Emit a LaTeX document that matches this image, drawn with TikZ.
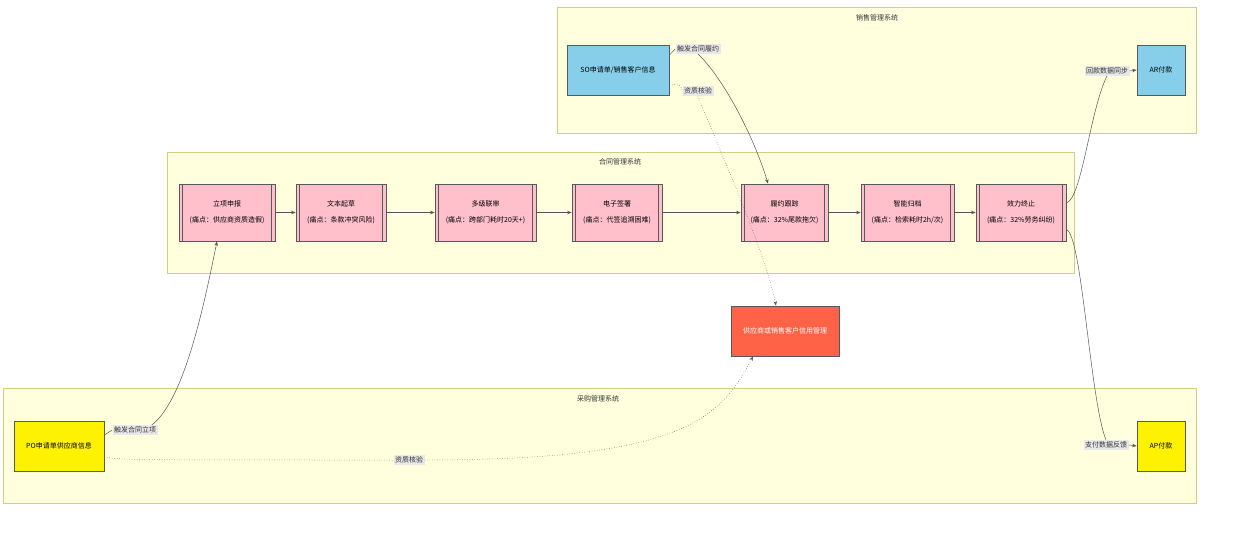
\documentclass[tikz,border=0pt]{standalone}
\usepackage{fontspec}
\setmainfont{Noto Sans CJK SC}
\usetikzlibrary{arrows.meta}
\definecolor{clfill}{HTML}{FFFFDE}
\definecolor{cldraw}{HTML}{CFCF80}
\definecolor{pinkn}{HTML}{FFC0CB}
\definecolor{bluen}{HTML}{87CEEB}
\definecolor{redn}{HTML}{FF6347}
\definecolor{lblbg}{HTML}{E8E8E8}
\definecolor{ln}{HTML}{555555}
\tikzset{
  cluster/.style={draw=cldraw,fill=clfill,line width=0.8pt},
  cltitle/.style={font=\fontsize{7}{8}\selectfont,text=black!80},
  box/.style={draw=black!65,line width=0.8pt,minimum height=50pt,inner sep=1pt,font=\fontsize{7}{9}\selectfont,align=center},
  pinkbox/.style={box,fill=pinkn,minimum height=57pt},
  bluebox/.style={box,fill=bluen},
  yellowbox/.style={box,fill=yellow},
  redbox/.style={box,fill=redn,text=white},
  lbl/.style={fill=lblbg,inner sep=1.5pt,font=\fontsize{7}{8}\selectfont,text=black!80},
  conn/.style={draw=ln,line width=0.5pt},
  arr/.style={conn,-{Stealth[length=4.5pt,width=3.5pt]}},
  dotconn/.style={conn,dotted},
}
\begin{document}
\begin{tikzpicture}[x=1pt,y=-1pt]
\useasboundingbox (0,0) rectangle (1251,554);
% clusters
\draw[cluster] (557,7) rectangle (1196,133);
\node[cltitle] (t1) at (877,18) {销售管理系统};
\draw[cluster] (167,152) rectangle (1074,273);
\node[cltitle] (t2) at (620,162) {合同管理系统};
\draw[cluster] (3,388) rectangle (1196,503);
\node[cltitle] (t3) at (598,399) {采购管理系统};
% nodes
\node[bluebox,minimum width=102pt] (so) at (618,70) {SO申请单/销售客户信息};
\node[bluebox,minimum width=48pt] (ar) at (1161,70) {AR付款};
\node[pinkbox,minimum width=96pt] (lx) at (227,212.5) {立项申报\\[7pt](痛点：供应商资质造假)};
\node[pinkbox,minimum width=90pt] (wb) at (341,212.5) {文本起草\\[7pt](痛点：条款冲突风险)};
\node[pinkbox,minimum width=101pt] (dj) at (485.5,212.5) {多级联审\\[7pt](痛点：跨部门耗时20天+)};
\node[pinkbox,minimum width=90pt] (dz) at (617,212.5) {电子签署\\[7pt](痛点：代签追溯困难)};
\node[pinkbox,minimum width=87pt] (ly) at (784.5,212.5) {履约跟踪\\[7pt](痛点：32\%尾款拖欠)};
\node[pinkbox,minimum width=93pt] (zn) at (907.5,212.5) {智能归档\\[7pt](痛点：检索耗时2h/次)};
\node[pinkbox,minimum width=90pt] (xl) at (1021,212.5) {效力终止\\[7pt](痛点：32\%劳务纠纷)};
\foreach \n in {lx,wb,dj,dz,ly,zn,xl}{
  \draw[black!65,line width=0.6pt] ([xshift=4pt]\n.north west) -- ([xshift=4pt]\n.south west);
  \draw[black!65,line width=0.6pt] ([xshift=-4pt]\n.north east) -- ([xshift=-4pt]\n.south east);
}
\node[redbox,minimum width=108pt] (cr) at (785,331) {供应商或销售客户信用管理};
\node[yellowbox,minimum width=90pt] (po) at (59,446) {PO申请单供应商信息};
\node[yellowbox,minimum width=48pt] (ap) at (1161,446) {AP付款};
% chain
\draw[arr] (lx) -- (wb);
\draw[arr] (wb) -- (dj);
\draw[arr] (dj) -- (dz);
\draw[arr] (dz) -- (ly);
\draw[arr] (ly) -- (zn);
\draw[arr] (zn) -- (xl);
% labels
\node[lbl] (l1) at (698,49) {触发合同履约};
\node[lbl] (l2) at (698,91) {资质核验};
\node[lbl] (l3) at (1107,71) {回款数据同步};
\node[lbl] (l4) at (1106,445) {支付数据反馈};
\node[lbl] (l5) at (135,430) {触发合同立项};
\node[lbl] (l6) at (409,460) {资质核验};
% SO edges
\draw[conn] ([yshift=15pt]so.east) -- (l1.west);
\draw[arr] (l1.south) .. controls (725,80) and (755,140) .. ([xshift=-16.5pt]ly.north);
\draw[dotconn] ([yshift=-15pt]so.east) .. controls (680,84) .. (l2.west);
\draw[dotconn,-{Stealth[length=4.5pt,width=3.5pt]}] (l2.south) .. controls (715,140) and (765,250) .. ([xshift=-9pt]cr.north);
% termination edges
\draw[conn] ([yshift=9.5pt]xl.east) .. controls (1082,198) and (1090,110) .. (l3.south);
\draw[arr] (l3.east) -- (ar.west);
\draw[conn] ([yshift=-17pt]xl.east) .. controls (1082,235) and (1090,400) .. (l4.north);
\draw[arr] (l4.east) -- (ap.west);
% PO edges
\draw[conn] ([yshift=11pt]po.east) -- (l5.west);
\draw[arr] ([xshift=-6pt]l5.north east) .. controls (185,400) and (205,300) .. ([xshift=-10pt]lx.south);
\draw[dotconn] ([yshift=-11pt]po.east) .. controls (125,460) .. (l6.west);
\draw[dotconn,-{Stealth[length=4.5pt,width=3.5pt]}] (l6.east) .. controls (680,460) and (720,420) .. ([xshift=-32pt]cr.south);
\end{tikzpicture}
\end{document}
